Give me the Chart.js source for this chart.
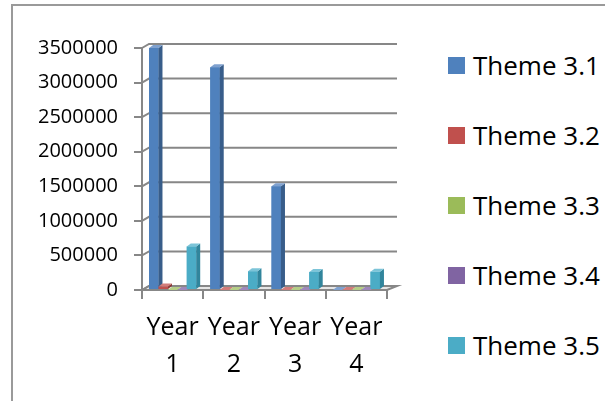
<!DOCTYPE html>
<html lang="en">
<head>
<meta charset="UTF-8" />
<title>Themes by year</title>
<script src="https://cdn.jsdelivr.net/npm/chart.js@4.4.0/dist/chart.umd.min.js"></script>
<style>
    body { margin: 0; background: #fff; font-family: "Open Sans", sans-serif; }
    #frame { position: absolute; left: 11px; top: 4px; width: 600px; height: 400px;
             border-left: 2px solid #9a9a9a; border-top: 2px solid #9a9a9a; }
    #myChart { position: absolute; left: 0; top: 0; }
    #legend { position: absolute; left: 448px; top: 30px; }
    .item { height: 70px; display: flex; align-items: center; }
    .box { width: 17px; height: 17px; margin-right: 8px; }
    .txt { font-size: 26px; line-height: 1; color: #000; }
</style>
</head>
<body>
<div id="frame"></div>
<canvas id="myChart" width="440" height="401"></canvas>
<div id="legend"></div>

<script>
const years = [['Year', '1'], ['Year', '2'], ['Year', '3'], ['Year', '4']];
const seriesNames = ['Theme 3.1', 'Theme 3.2', 'Theme 3.3', 'Theme 3.4', 'Theme 3.5'];
const theme31 = [3500000, 3220000, 1500000, 0];
const theme32 = [50000, 0, 0, 0];
const theme33 = [0, 0, 0, 0];
const theme34 = [0, 0, 0, 0];
const theme35 = [630000, 270000, 260000, 265000];
const yTicks = [0, 500000, 1000000, 1500000, 2000000, 2500000, 3000000, 3500000];

const fronts = ['#4F81BD', '#C0504D', '#9BBB59', '#8064A2', '#4BACC6'];
const sides = ['#385D8A', '#8C3836', '#71893F', '#5C4776', '#31859C'];
const tops = ['#7FA1CF', '#D27C7A', '#B5CD86', '#9E88BA', '#7CC4D8'];

const lineGray = '#878787';
const dx = 4, dy = 3;      // depth of the bars
const wx = 7, wy = 4;      // depth of the wall

// fake 3d: back wall grid, floor, bar sides and tops
const depth3d = {
    id: 'depth3d',
    beforeDatasetsDraw(chart) {
        const { ctx, chartArea: a, scales: { y } } = chart;
        ctx.save();
        // floor
        const b = y.getPixelForValue(0);
        ctx.fillStyle = '#e6e6e6';
        ctx.beginPath();
        ctx.moveTo(a.left, b);
        ctx.lineTo(a.left + wx, b - wy);
        ctx.lineTo(a.right + wx + 3, b - wy);
        ctx.lineTo(a.right, b);
        ctx.closePath();
        ctx.fill();
        ctx.strokeStyle = lineGray;
        ctx.lineWidth = 2;
        ctx.stroke();
        // grid on the back wall
        y.ticks.forEach(t => {
            const py = y.getPixelForValue(t.value);
            ctx.beginPath();
            ctx.moveTo(a.left, py);
            ctx.lineTo(a.left + wx, py - wy);
            ctx.lineTo(a.right + 10, py - wy);
            ctx.stroke();
        });
        ctx.restore();
    },
    afterDatasetsDraw(chart) {
        const ctx = chart.ctx;
        ctx.save();
        years.forEach((yr, j) => {
            chart.data.datasets.forEach((ds, i) => {
                const bar = chart.getDatasetMeta(i).data[j];
                const { x, y, base, width } = bar.getProps(['x', 'y', 'base', 'width'], true);
                const l = x - width / 2, r = x + width / 2;
                bar.draw(ctx);
                ctx.fillStyle = sides[i];
                ctx.beginPath();
                ctx.moveTo(r, y);
                ctx.lineTo(r + dx, y - dy);
                ctx.lineTo(r + dx, base - dy);
                ctx.lineTo(r, base);
                ctx.closePath();
                ctx.fill();
                ctx.fillStyle = tops[i];
                ctx.beginPath();
                ctx.moveTo(l, y);
                ctx.lineTo(l + dx, y - dy);
                ctx.lineTo(r + dx, y - dy);
                ctx.lineTo(r, y);
                ctx.closePath();
                ctx.fill();
            });
        });
        ctx.restore();
    }
};

const seriesData = [theme31, theme32, theme33, theme34, theme35];

const ctx = document.getElementById('myChart').getContext('2d');
const myChart = new Chart(ctx, {
    type: 'bar',
    data: {
        labels: years,
        datasets: seriesData.map((d, i) => ({
            label: seriesNames[i],
            data: d,
            backgroundColor: fronts[i],
            borderWidth: 0,
            categoryPercentage: 0.77,
            barPercentage: 1.0
        }))
    },
    options: {
        responsive: false,
        animation: false,
        layout: { padding: { left: 0, right: 53, top: 48, bottom: 0 } },
        plugins: {
            legend: { display: false },
            tooltip: { enabled: false }
        },
        scales: {
            x: {
                grid: { drawOnChartArea: false, tickLength: 9, tickColor: lineGray, lineWidth: 2 },
                border: { display: true, color: lineGray, width: 2 },
                ticks: {
                    color: '#000',
                    maxRotation: 0,
                    autoSkip: false,
                    padding: 10,
                    font: { family: 'Open Sans', size: 25, lineHeight: 1.5 }
                },
                afterFit: s => { s.height = 111; }
            },
            y: {
                min: 0,
                max: 3500000,
                afterBuildTicks: s => { s.ticks = yTicks.map(v => ({ value: v })); },
                grid: { drawOnChartArea: false, tickLength: 8, tickColor: lineGray, lineWidth: 2 },
                border: { display: true, color: lineGray, width: 2 },
                ticks: {
                    color: '#000',
                    padding: 16,
                    font: { family: 'Open Sans', size: 20 },
                    callback: v => String(v)
                },
                afterFit: s => { s.width = 142; }
            }
        }
    },
    plugins: [depth3d]
});

// legend on the right
const legend = document.getElementById('legend');
seriesNames.forEach((name, i) => {
    const item = document.createElement('div');
    item.className = 'item';
    item.innerHTML = '<div class="box" style="background:' + fronts[i] + '"></div><span class="txt">' + name + '</span>';
    legend.appendChild(item);
});
</script>
</body>
</html>
